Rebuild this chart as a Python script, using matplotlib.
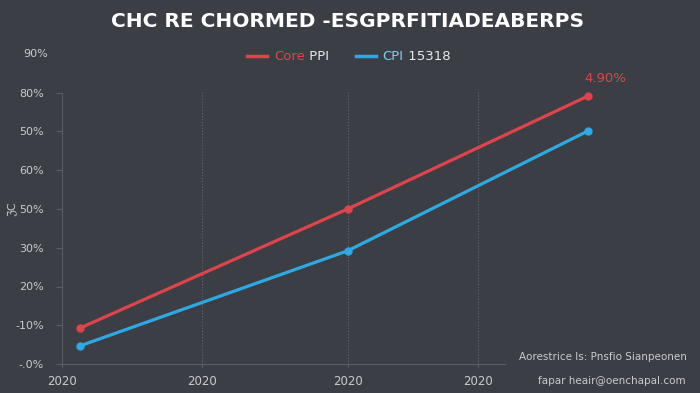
import matplotlib.pyplot as plt

# veriler
x_noktalar = [0.13, 2.04, 3.76]
core_ppi = [0.93, 4.0, 6.92]
cpi = [0.47, 2.92, 6.02]
x_ticks = [0, 1, 2.04, 2.97]
x_labels = ["2020", "2020", "2020", "2020"]
y_ticks = [0, 1, 2, 3, 4, 5, 6, 7]
y_labels = ["-.0%", "-10%", "20%", "30%", "50%", "60%", "50%", "80%"]

arka = "#3b3e45"
kirmizi = "#e0444b"
mavi = "#2ea9e3"
yazi = "#c9cbcf"

fig = plt.figure(figsize=(7, 3.93), dpi=100, facecolor=arka)
ax = fig.add_axes([62 / 700, 1 - 364 / 393, 578 / 700, 310 / 393])
ax.set_facecolor(arka)

ax.plot(x_noktalar, core_ppi, color=kirmizi, lw=2.3, marker="o", ms=5, label="Core")
ax.plot(x_noktalar, cpi, color=mavi, lw=2.3, marker="o", ms=5, label="CPI")

ax.set_xlim(0, 578 / 140)
ax.set_ylim(0, 8)
ax.set_xticks(x_ticks)
ax.set_xticklabels(x_labels)
ax.set_yticks(y_ticks)
ax.set_yticklabels(y_labels)
ax.tick_params(axis="x", colors="#5a5d64", labelcolor=yazi, labelsize=8.5, length=3, pad=5)
ax.tick_params(axis="y", colors="#5a5d64", labelcolor=yazi, labelsize=8, length=4, pad=9)

for k in ["top", "right"]:
    ax.spines[k].set_visible(False)
ax.spines["left"].set_color("#5a5d64")
ax.spines["bottom"].set_color("#5a5d64")
ax.spines["left"].set_bounds(0, 7)
ax.spines["bottom"].set_bounds(0, (505 - 62) / 140)

for gx in x_ticks[1:]:
    ax.plot([gx, gx], [0, 7.05], color="#62656c", lw=0.8, ls=":", zorder=0)

ax.text(-0.1, 8, "90%", color=yazi, fontsize=8, ha="right", va="center")
ax.set_ylabel("ℨC", color=yazi, fontsize=8)
ax.yaxis.set_label_coords(-0.076, 0.5)

ax.annotate("4.90%", (x_noktalar[2], core_ppi[2]), xytext=(12, 10),
            textcoords="offset points", color=kirmizi, fontsize=9.5, ha="center")

fig.text(0.497, 0.945, "CHC RE CHORMED -ESGPRFITIADEABERPS", color="white",
         fontsize=14.5, fontweight="bold", ha="center", va="center")

leg = fig.legend(loc="center", bbox_to_anchor=(0.465, 0.855), ncol=2, frameon=False,
                 fontsize=9.5, handlelength=1.5, columnspacing=3.9, handletextpad=0.5)
for t, c in zip(leg.get_texts(), [kirmizi, "#7fd0f2"]):
    t.set_color(c)
for h in leg.legend_handles:
    h.set_marker("")
    h.set_linewidth(2.5)

# etiketlerin ikinci parcalari beyaz
fig.canvas.draw()
r = fig.canvas.get_renderer()
for t, ek in zip(leg.get_texts(), [" PPI", " 15318"]):
    bb = t.get_window_extent(r)
    fig.text(bb.x1 / 700, (bb.y0 + bb.y1) / 2 / 393, ek, color="#e8e9eb",
             fontsize=9.5, ha="left", va="center")

fig.text(0.981, 0.092, "Aorestrice Is: Pnsfio Sianpeonen", color=yazi, fontsize=7.5,
         ha="right", va="center")
fig.text(0.979, 0.031, "fapar heair@oenchapal.com", color=yazi, fontsize=7.5,
         ha="right", va="center")

plt.savefig("out.png", dpi=100, facecolor=arka)
